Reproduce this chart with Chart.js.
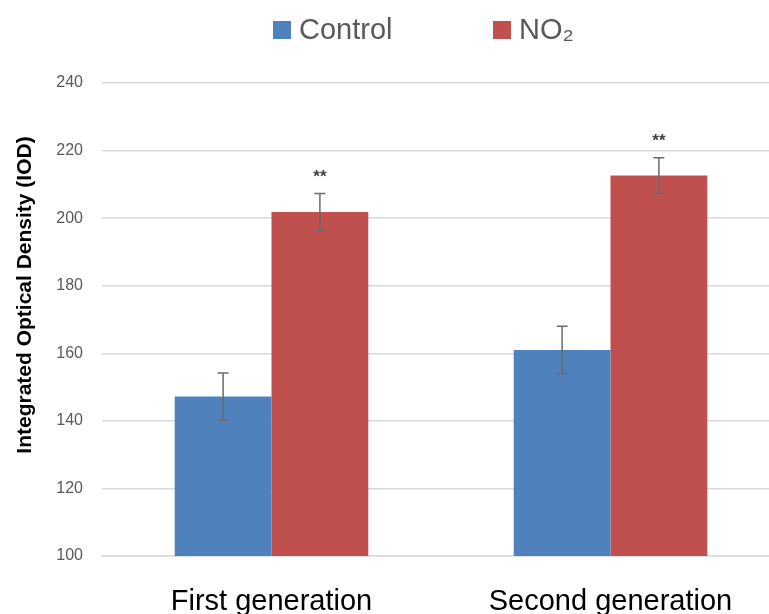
<!DOCTYPE html>
<html>
<head>
<meta charset="utf-8">
<script src="https://cdn.jsdelivr.net/npm/chart.js@4.4.0/dist/chart.umd.min.js"></script>
<style>
  html, body { margin: 0; padding: 0; background: #ffffff; overflow: hidden; }
  #wrap { position: relative; width: 780px; height: 614px; }
</style>
</head>
<body>
<div id="wrap"><canvas id="c"></canvas></div>
<script>
const categories = ['First generation', 'Second generation'];
const seriesNames = ['Control', 'NO\u2082'];
const controlValues = [147.2, 161.0];
const controlErr = [7.0, 7.0];
const no2Values = [201.8, 212.6];
const no2Err = [5.5, 5.3];
const no2Sig = ['**', '**'];
const yTicks = [100, 120, 140, 160, 180, 200, 220, 240];
const yTitle = 'Integrated Optical Density (IOD)';

const colors = ['#4f81bd', '#c0504d'];
const errors = [controlErr, no2Err];

const errorBarPlugin = {
  id: 'errorBars',
  afterDatasetsDraw(chart) {
    const ctx = chart.ctx;
    const y = chart.scales.y;
    chart.data.datasets.forEach((ds, i) => {
      const meta = chart.getDatasetMeta(i);
      meta.data.forEach((el, j) => {
        const v = ds.data[j], e = errors[i][j];
        const yt = y.getPixelForValue(v + e);
        const yb = y.getPixelForValue(v - e);
        ctx.save();
        ctx.strokeStyle = '#6b6b6b';
        ctx.lineWidth = 1.5;
        ctx.beginPath();
        ctx.moveTo(el.x, yt); ctx.lineTo(el.x, yb);
        ctx.moveTo(el.x - 5.5, yt); ctx.lineTo(el.x + 5.5, yt);
        ctx.moveTo(el.x - 5.5, yb); ctx.lineTo(el.x + 5.5, yb);
        ctx.stroke();
        if (i === 1 && no2Sig[j]) {
          ctx.fillStyle = '#404040';
          ctx.font = 'bold 17px "Liberation Sans", Arial, sans-serif';
          ctx.textAlign = 'center';
          ctx.textBaseline = 'middle';
          ctx.fillText(no2Sig[j], el.x, yt - 16);
        }
        ctx.restore();
      });
    });
  }
};

const legendPlugin = {
  id: 'customLegend',
  afterDraw(chart) {
    const ctx = chart.ctx;
    const items = [{x: 273}, {x: 493}];
    ctx.save();
    ctx.font = '29px "Liberation Sans", Arial, sans-serif';
    ctx.textBaseline = 'middle';
    ctx.textAlign = 'left';
    chart.data.datasets.forEach((ds, i) => {
      const bx = items[i].x;
      ctx.fillStyle = colors[i];
      ctx.fillRect(bx, 21, 18, 18);
      ctx.fillStyle = '#595959';
      ctx.fillText(ds.label, bx + 26, 31);
    });
    // y-axis title
    ctx.translate(25, 295);
    ctx.rotate(-Math.PI / 2);
    ctx.font = 'bold 21px "Liberation Sans", Arial, sans-serif';
    ctx.fillStyle = '#000000';
    ctx.textAlign = 'center';
    ctx.textBaseline = 'middle';
    ctx.fillText(yTitle, 0, 0);
    ctx.restore();
  }
};

new Chart(document.getElementById('c'), {
  type: 'bar',
  data: {
    labels: categories,
    datasets: [
      { label: seriesNames[0], data: controlValues, backgroundColor: colors[0], borderWidth: 0 },
      { label: seriesNames[1], data: no2Values, backgroundColor: colors[1], borderWidth: 0 }
    ]
  },
  options: {
    responsive: true,
    maintainAspectRatio: false,
    animation: false,
    layout: { padding: { top: 83, left: 0, right: 0, bottom: 0 } },
    plugins: { legend: { display: false }, tooltip: { enabled: false } },
    datasets: { bar: { categoryPercentage: 0.571, barPercentage: 1.0 } },
    scales: {
      x: {
        grid: { display: false, drawTicks: false },
        border: { display: true, color: '#d9d9d9', width: 1.5 },
        ticks: { color: '#000000', font: { family: '"Liberation Sans", Arial, sans-serif', size: 29 }, padding: 29 },
        afterFit(s) { s.height = 58; }
      },
      y: {
        min: 100, max: 240,
        afterBuildTicks(s) { s.ticks = yTicks.map(v => ({ value: v })); },
        grid: { color: '#d9d9d9', lineWidth: 1.5, drawTicks: false },
        border: { display: false },
        ticks: { color: '#595959', font: { family: '"Liberation Sans", Arial, sans-serif', size: 16 }, padding: 19 },
        title: { display: false, text: yTitle },
        afterFit(s) { s.width = 102; }
      }
    }
  },
  plugins: [errorBarPlugin, legendPlugin]
});
</script>
</body>
</html>
